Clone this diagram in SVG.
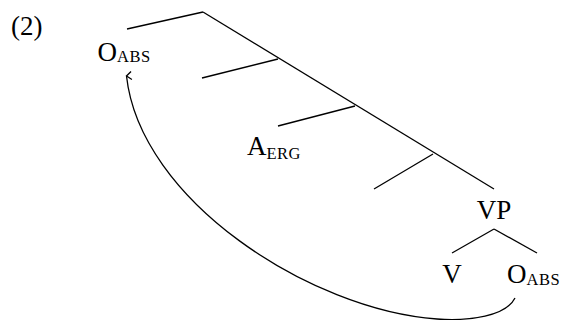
<svg xmlns="http://www.w3.org/2000/svg" width="565" height="320" viewBox="0 0 565 320">
<style>
text{font-family:"Liberation Serif","Times New Roman",serif;fill:#000}
.l{font-size:27px}
.s{font-size:16.5px;letter-spacing:0.5px}
.e{stroke:#000;stroke-width:1.3;fill:none}
</style>
<defs>
<marker id="ah" markerWidth="10" markerHeight="10" refX="5" refY="1" orient="auto-start-reverse" markerUnits="userSpaceOnUse" viewBox="0 0 10 10">
<polyline points="1,6 5,1 9,6" fill="none" stroke="#000" stroke-width="1.3"/>
</marker>
</defs>
<rect width="565" height="320" fill="#fff"/>
<text id="label" class="l" x="11" y="35">(2)</text>
<g id="tree-edges">
<line class="e" x1="127" y1="29" x2="203" y2="12"/>
<line class="e" x1="203" y1="12" x2="494" y2="189"/>
<line class="e" x1="202" y1="78" x2="278" y2="59"/>
<line class="e" x1="278" y1="126" x2="355" y2="106"/>
<line class="e" x1="374" y1="189" x2="433" y2="154"/>
<line class="e" x1="494" y1="229" x2="452" y2="253"/>
<line class="e" x1="494" y1="229" x2="537" y2="253"/>
</g>
<g id="n-oabs-top"><text class="l" x="97.5" y="61">O<tspan class="s" dy="0.5">ABS</tspan></text></g>
<g id="n-aerg"><text class="l" x="247" y="155">A<tspan class="s" dy="3.5">ERG</tspan></text></g>
<g id="n-vp"><text class="l" x="494" y="219" text-anchor="middle">VP</text></g>
<g id="n-v"><text class="l" x="452" y="283" text-anchor="middle">V</text></g>
<g id="n-oabs-bot"><text class="l" x="507" y="283">O<tspan class="s" dy="2">ABS</tspan></text></g>
<g id="connectors">
<path class="e" d="M515,298 C506,316 470,321.3 437,319 C310,310 140,200 126.5,76" marker-end="url(#ah)"/>
</g>
</svg>
